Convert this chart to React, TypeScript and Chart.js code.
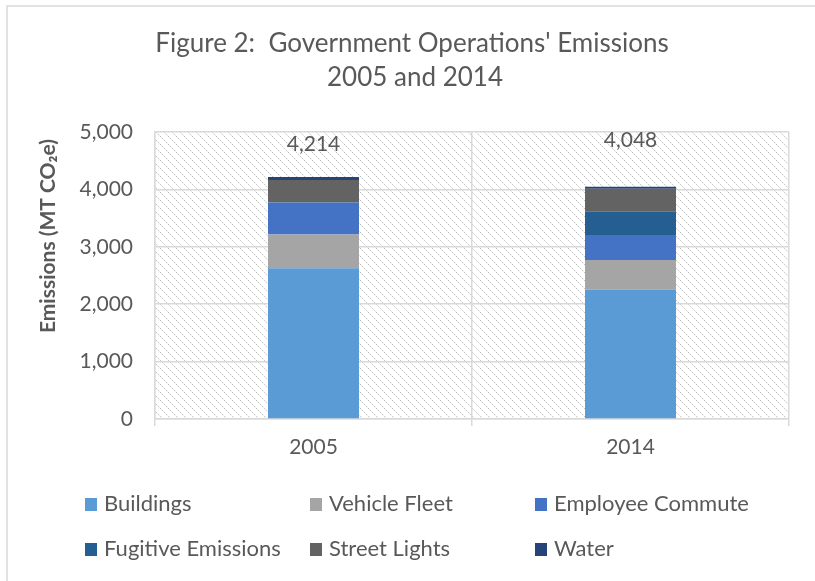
import React, { useEffect, useRef } from "react";
import { Chart, registerables } from "chart.js";

Chart.register(...registerables);

const categories = ["2005", "2014"];
const seriesNames = [
  "Buildings",
  "Vehicle Fleet",
  "Employee Commute",
  "Fugitive Emissions",
  "Street Lights",
  "Water",
];
const buildings = [2625, 2253];
const vehicleFleet = [590, 517];
const employeeCommute = [555, 436];
const fugitiveEmissions = [0, 406];
const streetLights = [395, 401];
const water = [49, 35];
const seriesColors = ["#5B9BD5", "#A5A5A5", "#4472C4", "#255E91", "#636363", "#264478"];
const yTicks = [0, 1000, 2000, 3000, 4000, 5000];
const totalLabelAnchors = [4780, 4860];
const titleLines = ["Figure 2:  Government Operations' Emissions", "2005 and 2014"];
const yTitle = "Emissions (MT CO\u2082e)";

const FONT = "Lato, 'Open Sans', sans-serif";
const TEXT = "#595959";
const GRID = "#D9D9D9";

function makePattern(ctx: CanvasRenderingContext2D) {
  const c = document.createElement("canvas");
  c.width = 8;
  c.height = 8;
  const p = c.getContext("2d")!;
  p.fillStyle = "#FFFFFF";
  p.fillRect(0, 0, 8, 8);
  for (let i = 0; i < 8; i++) {
    p.fillStyle = i % 2 === 0 ? "#C8C8C8" : "#E6E6E6";
    p.fillRect(i, i, 1, 1);
  }
  return ctx.createPattern(c, "repeat");
}

const decorPlugin = {
  id: "decor",
  beforeDraw(chart: any) {
    const { ctx, chartArea } = chart;
    ctx.save();
    ctx.fillStyle = "#FFFFFF";
    ctx.fillRect(0, 0, chart.width, chart.height);
    const pat = makePattern(ctx);
    if (pat) {
      ctx.fillStyle = pat;
      ctx.fillRect(chartArea.left, chartArea.top, chartArea.right - chartArea.left, chartArea.bottom - chartArea.top);
    }
    // outer frame
    ctx.strokeStyle = GRID;
    ctx.lineWidth = 1.5;
    ctx.beginPath();
    ctx.moveTo(7, chart.height + 10);
    ctx.lineTo(7, 6);
    ctx.lineTo(chart.width + 10, 6);
    ctx.stroke();
    ctx.restore();
  },
  afterDatasetsDraw(chart: any) {
    const { ctx } = chart;
    const yScale = chart.scales.y;
    const xScale = chart.scales.x;
    ctx.save();
    ctx.fillStyle = TEXT;
    ctx.font = `21px ${FONT}`;
    ctx.textAlign = "center";
    ctx.textBaseline = "middle";
    categories.forEach((_, i) => {
      let total = 0;
      chart.data.datasets.forEach((ds: any) => (total += ds.data[i]));
      ctx.fillText(total.toLocaleString("en-US"), xScale.getPixelForValue(i), yScale.getPixelForValue(totalLabelAnchors[i]));
    });
    ctx.restore();
  },
  afterDraw(chart: any) {
    const { ctx } = chart;
    ctx.save();
    // title
    ctx.fillStyle = TEXT;
    ctx.font = `26px ${FONT}`;
    ctx.textAlign = "center";
    ctx.textBaseline = "alphabetic";
    ctx.fillText(titleLines[0], 412, 52);
    ctx.fillText(titleLines[1], 415, 86);
    // y title
    ctx.save();
    ctx.translate(48, 236);
    ctx.rotate(-Math.PI / 2);
    ctx.font = `bold 21px ${FONT}`;
    ctx.textBaseline = "middle";
    ctx.fillText(yTitle, 0, 0);
    ctx.restore();
    // legend
    ctx.font = `22px ${FONT}`;
    ctx.textAlign = "left";
    ctx.textBaseline = "middle";
    chart.data.datasets.forEach((ds: any, i: number) => {
      const col = i % 3;
      const row = Math.floor(i / 3);
      const x = 85 + col * 225;
      const y = 504 + row * 45;
      ctx.fillStyle = ds.backgroundColor;
      ctx.fillRect(x, y - 6, 12, 13);
      ctx.fillStyle = TEXT;
      ctx.fillText(ds.label, x + 19, y);
    });
    ctx.restore();
  },
};

export default function App() {
  const ref = useRef<HTMLCanvasElement>(null);
  useEffect(() => {
    if (!ref.current) return;
    const values = [buildings, vehicleFleet, employeeCommute, fugitiveEmissions, streetLights, water];
    const chart = new Chart(ref.current, {
      type: "bar",
      data: {
        labels: categories,
        datasets: seriesNames.map((name, i) => ({
          label: name,
          data: values[i],
          backgroundColor: seriesColors[i],
          borderWidth: 0,
          categoryPercentage: 1,
          barPercentage: 0.287,
        })),
      },
      options: {
        responsive: false,
        animation: false,
        layout: { padding: { top: 132, right: 26, left: 0, bottom: 0 } },
        plugins: { legend: { display: false }, title: { display: false }, tooltip: { enabled: false } },
        scales: {
          x: {
            stacked: true,
            offset: true,
            grid: { display: true, offset: true, color: GRID, lineWidth: 1.5, drawTicks: true, tickLength: 7, tickColor: GRID },
            border: { color: GRID, width: 1.5 },
            ticks: { color: TEXT, font: { family: FONT, size: 21 }, padding: 9 },
            afterFit: (s: any) => {
              s.height = 162;
            },
          },
          y: {
            stacked: true,
            min: 0,
            max: 5000,
            afterBuildTicks: (s: any) => {
              s.ticks = yTicks.map((v) => ({ value: v }));
            },
            grid: { color: GRID, lineWidth: 1.5, drawTicks: false },
            border: { color: GRID, width: 1.5 },
            ticks: {
              color: TEXT,
              font: { family: FONT, size: 21 },
              padding: 22,
              callback: (v: any) => Number(v).toLocaleString("en-US"),
            },
            afterFit: (s: any) => {
              s.width = 155;
            },
          },
        },
      },
      plugins: [decorPlugin],
    });
    return () => chart.destroy();
  }, []);
  return (
    <div style={{ position: "absolute", left: 0, top: 0, width: 815, height: 581 }}>
      <canvas ref={ref} width={815} height={581} style={{ display: "block", width: 815, height: 581 }} />
    </div>
  );
}
